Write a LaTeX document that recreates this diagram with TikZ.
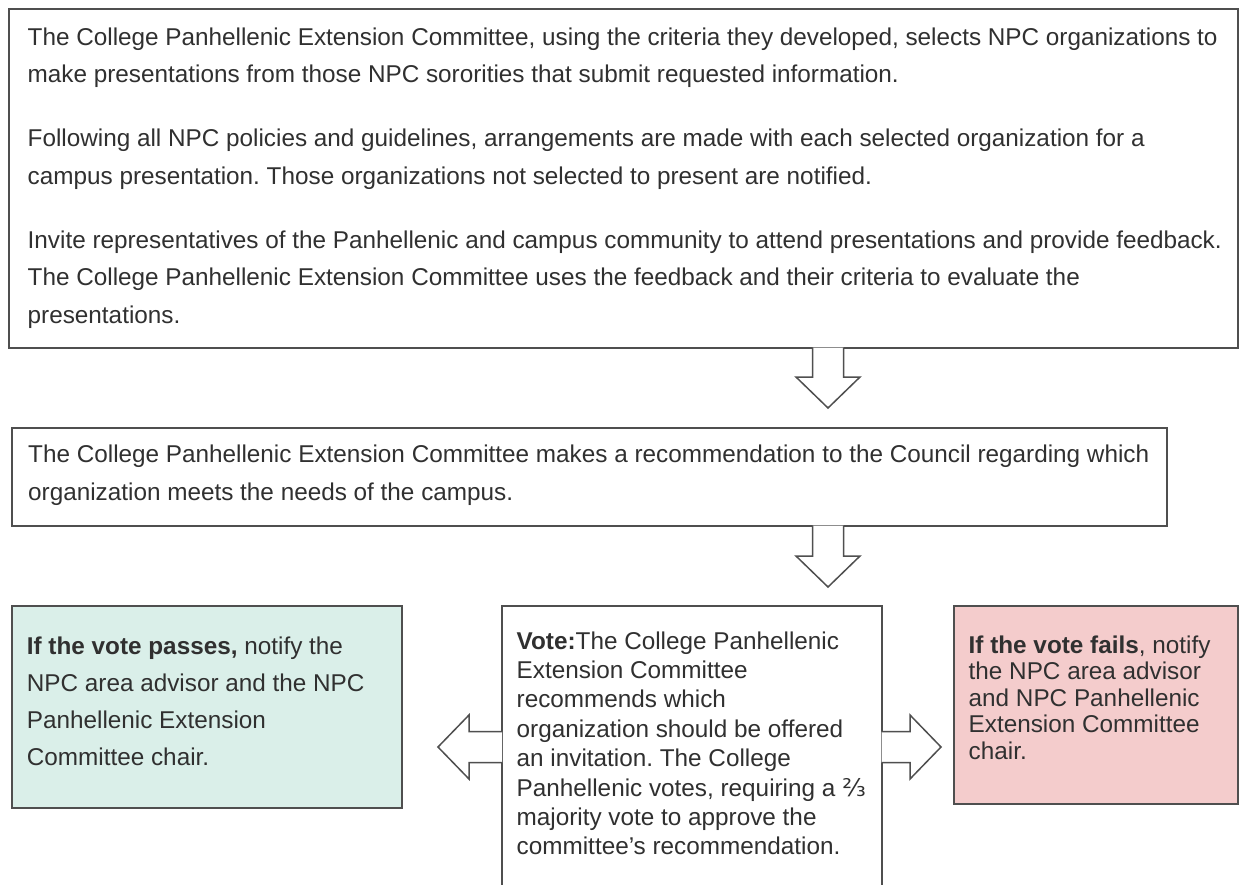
\documentclass[tikz,border=0pt]{standalone}
\usepackage{fontspec}
\setmainfont{Liberation Sans}
\newfontfamily\fracfont{DejaVu Sans}
\frenchspacing
\usetikzlibrary{calc}
\definecolor{boxline}{HTML}{4F4F4F}
\definecolor{passfill}{RGB}{218,239,233}
\definecolor{failfill}{HTML}{F4CCCC}
\definecolor{bodytext}{HTML}{303030}
\tikzset{
  box/.style={draw=boxline, line width=1.5pt, anchor=north west, inner sep=0pt},
  txt/.style={anchor=north west, inner sep=0pt, align=left, text=bodytext,
    font=\fontsize{24.3pt}{#1}\selectfont},
  hollow/.style={draw=boxline, fill=white, line width=1.5pt, line join=miter,
    to path={
      let \p1=(\tikztostart), \p2=(\tikztotarget),
          \n1={veclen(\x2-\x1,\y2-\y1)},
          \n2={(\x2-\x1)/\n1}, \n3={(\y2-\y1)/\n1}, \n4={\n1-31}
      in ({\x1-(\n2)*1pt-(\n3)*15.5pt},{\y1-(\n3)*1pt+(\n2)*15.5pt})
      -- ({\x1+(\n4)*(\n2)*1pt-(\n3)*15.5pt},{\y1+(\n4)*(\n3)*1pt+(\n2)*15.5pt})
      -- ({\x1+(\n4)*(\n2)*1pt-(\n3)*32pt},{\y1+(\n4)*(\n3)*1pt+(\n2)*32pt})
      -- (\p2)
      -- ({\x1+(\n4)*(\n2)*1pt+(\n3)*32pt},{\y1+(\n4)*(\n3)*1pt-(\n2)*32pt})
      -- ({\x1+(\n4)*(\n2)*1pt+(\n3)*15.5pt},{\y1+(\n4)*(\n3)*1pt-(\n2)*15.5pt})
      -- ({\x1-(\n2)*1pt+(\n3)*15.5pt},{\y1-(\n3)*1pt-(\n2)*15.5pt})
    }}
}
\begin{document}
\begin{tikzpicture}[x=1pt,y=-1pt]
  \useasboundingbox (0,0) rectangle (1239,884);
  \clip (0,0) rectangle (1239,884);
  \fill[white] (0,0) rectangle (1239,884);

  \node[box, minimum width=1229pt, minimum height=339pt] (top) at (8,8) {};
  \node[box, minimum width=1155pt, minimum height=98pt] (rec) at (11,427) {};
  \node[box, fill=passfill, minimum width=390pt, minimum height=202pt] (pass) at (11,605) {};
  \node[box, minimum width=380pt, minimum height=320pt] (vote) at (501,605) {};
  \node[box, fill=failfill, minimum width=284pt, minimum height=198pt] (fail) at (953,605) {};

  \node[txt=37.5pt] (topText) at ([shift={(19.5,19.6)}]top.north west)
    {The College Panhellenic Extension Committee, using the criteria they developed, selects NPC organizations to\\
     make presentations from those NPC sororities that submit requested information.\\[26.5pt]
     Following all NPC policies and guidelines, arrangements are made with each selected organization for a\\
     campus presentation. Those organizations not selected to present are notified.\\[26.5pt]
     Invite representatives of the Panhellenic and campus community to attend presentations and provide feedback.\\
     The College Panhellenic Extension Committee uses the feedback and their criteria to evaluate the\\
     presentations.};
  \node[txt=38pt] (recText) at ([shift={(17,17.6)}]rec.north west)
    {The College Panhellenic Extension Committee makes a recommendation to the Council regarding which\\
     organization meets the needs of the campus.};
  \node[txt=37pt] (passText) at ([shift={(15.7,31.6)}]pass.north west)
    {\textbf{If the vote passes,} notify the\\
     NPC area advisor and the NPC\\
     Panhellenic Extension\\
     Committee chair.};
  \node[txt=29.4pt] (voteText) at ([shift={(15.5,26.3)}]vote.north west)
    {\textbf{Vote:}The College Panhellenic\\
     Extension Committee\\
     recommends which\\
     organization should be offered\\
     an invitation. The College\\
     Panhellenic votes, requiring a {\fracfont ⅔}\\
     majority vote to approve the\\
     committee’s recommendation.};
  \node[txt=26.5pt] (failText) at ([shift={(15.5,30.6)}]fail.north west)
    {\textbf{If the vote fails}, notify\\
     the NPC area advisor\\
     and NPC Panhellenic\\
     Extension Committee\\
     chair.};

  \coordinate (tipA) at (828,408);
  \coordinate (tipB) at (828,587);
  \coordinate (tipL) at (438,747);
  \coordinate (tipR) at (941,747);
  \draw[hollow] (tipA |- top.south) to (tipA);
  \draw[hollow] (tipB |- rec.south) to (tipB);
  \draw[hollow] (tipL -| vote.west) to (tipL);
  \draw[hollow] (tipR -| vote.east) to (tipR);
\end{tikzpicture}
\end{document}
